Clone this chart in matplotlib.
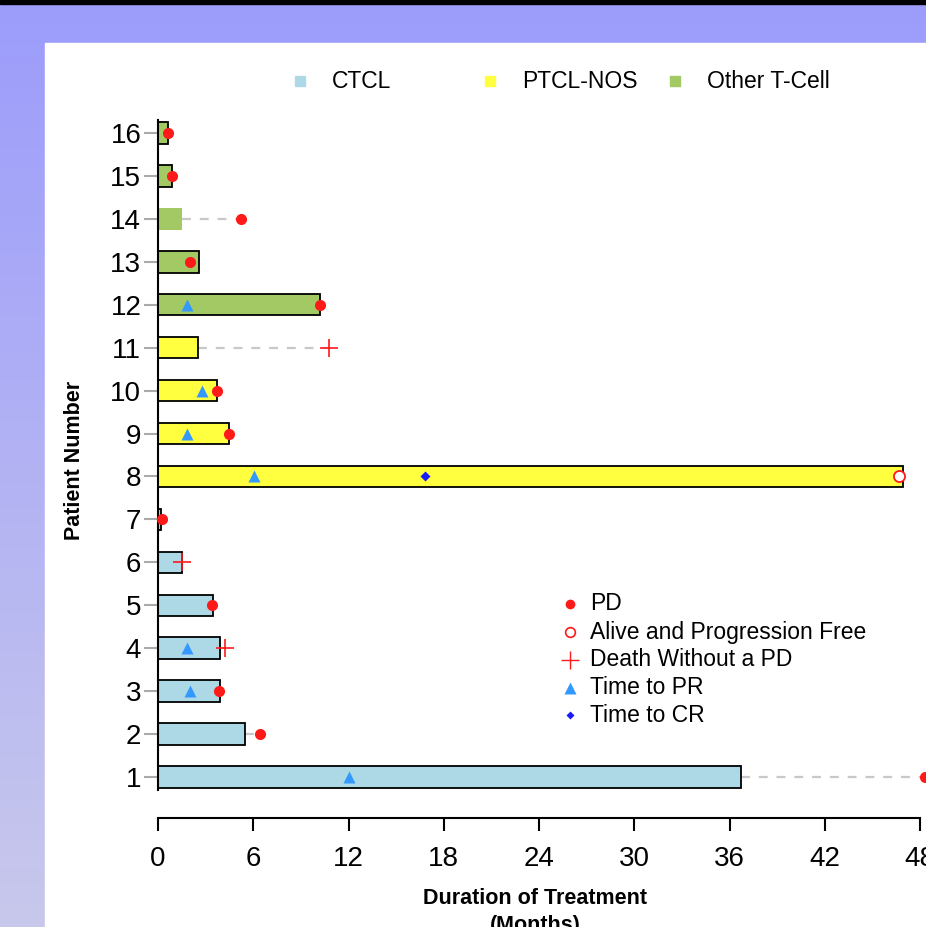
import matplotlib

matplotlib.use("Agg")

import matplotlib.pyplot as plt
import numpy as np
from matplotlib.patches import Rectangle

plt.rcParams["font.family"] = ["Liberation Sans", "DejaVu Sans"]

# patients 1..16, duration of treatment in months
patients = list(range(1, 17))
duration = [36.7, 5.5, 3.9, 3.9, 3.45, 1.5, 0.2, 46.9, 4.5, 3.7, 2.5, 10.2, 2.6, 1.5, 0.9, 0.6]
subtype = ["CTCL"] * 7 + ["PTCL-NOS"] * 4 + ["Other T-Cell"] * 5

pd_patient = [16, 15, 14, 13, 12, 10, 9, 7, 5, 3, 2, 1]
pd_time = [0.6, 0.9, 5.2, 2.0, 10.2, 3.7, 4.5, 0.25, 3.4, 3.85, 6.4, 48.3]
alive_patient = [8]
alive_time = [46.7]
death_patient = [11, 6, 4]
death_time = [10.8, 1.5, 4.2]
pr_patient = [12, 10, 9, 8, 4, 3, 1]
pr_time = [1.8, 2.8, 1.8, 6.05, 1.8, 2.0, 12.0]
cr_patient = [8]
cr_time = [16.8]

subtype_names = ["CTCL", "PTCL-NOS", "Other T-Cell"]
subtype_colors = {"CTCL": "#add8e6", "PTCL-NOS": "#ffff40", "Other T-Cell": "#a3c964"}
no_outline = {14}

event_labels = ["PD", "Alive and Progression Free", "Death Without a PD", "Time to PR", "Time to CR"]

W, H = 926, 927
fig = plt.figure(figsize=(W / 100, H / 100), dpi=100)

# background: gradient, black strip on top, white panel
bg = fig.add_axes([0, 0, 1, 1], zorder=-10)
grad = np.linspace(0, 1, 256)[:, None]
top = np.array([0x9c, 0x9c, 0xfc]) / 255
bot = np.array([0xc8, 0xc8, 0xec]) / 255
img = top[None, None, :] * (1 - grad[..., None]) + bot[None, None, :] * grad[..., None]
bg.imshow(img, aspect="auto", extent=[0, W, H, 0])
bg.add_patch(Rectangle((0, 0), W, 4, color="black"))
bg.add_patch(Rectangle((45, 43), W - 45, H - 43, color="white"))
bg.set_xlim(0, W)
bg.set_ylim(H, 0)
bg.axis("off")

# main axes: x 0..48 -> px 158..920, patient 16 at 133 px, 1 at 777 px
x0, x1 = 158, 920
y_bot, y_top = 818, 112
step = (777 - 133) / 15
ax = fig.add_axes([x0 / W, 1 - y_bot / H, (x1 - x0) / W, (y_bot - y_top) / H])
ax.set_xlim(0, 48)
ax.set_ylim(1 - (y_bot - 777) / step, 16 + (133 - y_top) / step)
ax.patch.set_alpha(0)

# follow-up dashed lines
event_end = {}
for p, t in zip(pd_patient + alive_patient + death_patient, pd_time + alive_time + death_time):
    event_end[p] = max(event_end.get(p, 0), t)
for p, d in zip(patients, duration):
    if event_end.get(p, 0) > d:
        ax.plot([d, event_end[p]], [p, p], color="#c8c8c8", lw=1.6, ls=(0, (4, 4)),
                zorder=1, clip_on=False)

for p, d, s in zip(patients, duration, subtype):
    ec = "none" if p in no_outline else "black"
    ax.barh(p, d, height=0.5, color=subtype_colors[s], edgecolor=ec, linewidth=1.3, zorder=2)

ax.plot(pd_time, pd_patient, "o", color="#ff1a1a", ms=8, mec="none", zorder=4, clip_on=False)
ax.plot(alive_time, alive_patient, "o", mfc="white", mec="#ff1a1a", mew=1.3, ms=8, zorder=4)
ax.plot(death_time, death_patient, "+", color="#ff1a1a", ms=13, mew=1.2, zorder=4)
ax.plot(pr_time, pr_patient, "^", color="#3399ff", ms=9, mec="none", zorder=4)
ax.plot(cr_time, cr_patient, "D", color="#1a1aff", ms=5, mec="none", zorder=4)

for side in ["top", "right"]:
    ax.spines[side].set_visible(False)
ax.spines["left"].set_bounds(0.7, 16.3)
ax.spines["bottom"].set_bounds(0, 48)
ax.spines["left"].set_linewidth(1.5)
ax.spines["bottom"].set_linewidth(1.5)

ax.set_xticks(np.arange(0, 49, 6))
ax.set_yticks(patients)
ax.tick_params(axis="x", length=9, width=1.5, labelsize=20, pad=11)
ax.tick_params(axis="y", length=10, width=1.5, color="#aaaaaa", labelsize=20, pad=2)

fig.text(75 / W, 1 - 460 / H, "Patient Number", rotation=90, ha="center", va="center",
         fontsize=15.5, fontweight="bold")
fig.text(535 / W, 1 - 888 / H, "Duration of Treatment\n(Months)", ha="center", va="top",
         fontsize=15.5, fontweight="bold", linespacing=1.35)

# subtype legend on top
leg_x = [300, 490, 675]
for name, lx in zip(subtype_names, leg_x):
    fig.add_artist(plt.Line2D([lx / W], [1 - 81 / H], marker="s", ms=7,
                              color=subtype_colors[name], ls="none"))
    fig.text((lx + 32) / W, 1 - 81 / H, name, ha="left", va="center", fontsize=16.5)

# event legend
marker_styles = [
    dict(marker="o", color="#ff1a1a", ms=7, mec="none"),
    dict(marker="o", mfc="white", mec="#ff1a1a", mew=1.2, ms=7),
    dict(marker="+", color="#ff1a1a", ms=13, mew=1.0),
    dict(marker="^", color="#3399ff", ms=8, mec="none"),
    dict(marker="D", color="#1a1aff", ms=4.5, mec="none"),
]
row_y = [604, 632, 660, 688, 715]
for label, style, ry in zip(event_labels, marker_styles, row_y):
    fig.add_artist(plt.Line2D([570 / W], [1 - ry / H], ls="none", **style))
    fig.text(590 / W, 1 - ry / H, label, ha="left", va="center", fontsize=16.5)

fig.savefig("out.png", dpi=100)
